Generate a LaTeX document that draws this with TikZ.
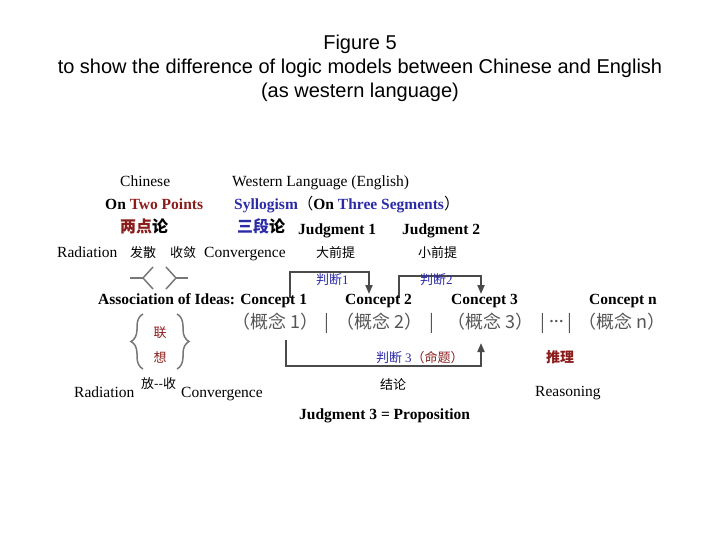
\documentclass[tikz,border=0pt]{standalone}
\usepackage{fontspec}
\setmainfont{Liberation Serif}
\newfontfamily\cjk{Noto Sans CJK SC}
\newfontfamily\arialf{Liberation Sans}
\usetikzlibrary{arrows.meta,decorations.pathreplacing}
\newcommand\myfs[1]{\fontsize{#1}{#1}\selectfont}
\definecolor{dred}{HTML}{8B1C1C}
\definecolor{dblue}{HTML}{2B2BA8}
\definecolor{lgray}{HTML}{4A4A4A}
\definecolor{cgray}{HTML}{555555}
\begin{document}
\begin{tikzpicture}[x=1pt,y=-1pt,
  every node/.style={inner sep=0pt,anchor=base west},
  en/.style={font=\myfs{15.5}},
  enb/.style={font=\myfs{15.5}\bfseries},
  cn/.style={font=\cjk\myfs{13}},
  cnb/.style={font=\cjk\bfseries\myfs{16}},
  gcn/.style={font=\cjk\myfs{18},text=cgray},
  ttl/.style={font=\arialf\myfs{20},anchor=base},
  conn/.style={draw=lgray,line width=2pt},
  arr/.style={conn,-{Triangle[width=7pt,length=9pt]}},
  sym/.style={draw=lgray!75,line width=1.5pt}]
\useasboundingbox (0,0) rectangle (720,540);
% title
\node[ttl] (t1) at (360,50) {Figure 5};
\node[ttl] (t2) at (360,74) {to show the difference of logic models between Chinese and English};
\node[ttl] (t3) at (360,98) {(as western language)};
% headers
\node[en] (chinese) at (120,187) {Chinese};
\node[en] (western) at (232,187) {Western Language (English)};
\node[enb] (twopts) at (105,210) {On \textcolor{dred}{Two Points}};
\node[enb] (syll) at (234,210) {\textcolor{dblue}{Syllogism}{\cjk\mdseries （}On \textcolor{dblue}{Three Segments}{\cjk\mdseries ）}};
\node[cnb] (lds) at (120,233) {\textcolor{dred}{两点}论};
\node[cnb] (sdl) at (237,233) {\textcolor{dblue}{三段}论};
\node[enb] (jud1) at (298,234) {Judgment 1};
\node[enb] (jud2) at (402,234) {Judgment 2};
\node[en] (rad1) at (57,257) {Radiation};
\node[cn] (fasan) at (130,257) {发散};
\node[cn] (shou) at (170,257) {收敛};
\node[en] (conv1) at (204,257) {Convergence};
\node[cn] (dqt) at (316,257) {大前提};
\node[cn] (xqt) at (418,257) {小前提};
% diverge / converge symbols
\draw[sym] (130,278) -- (143,278);
\draw[sym] (153,267) -- (143,278) -- (153,289);
\draw[sym] (166,267) -- (176,278) -- (166,289);
\draw[sym] (176,278) -- (188,278);
% judgment brackets
\coordinate (a1s) at (290,298);
\coordinate (a1e) at (369,294);
\coordinate (a2s) at (399,298);
\coordinate (a2e) at (481,294);
\draw[arr] (a1s) -- (290,272) -| (a1e);
\draw[arr] (a2s) -- (399,276) -| (a2e);
\node[cn,text=dblue] (pd1) at (316,284) {判断{\rmfamily 1}};
\node[cn,text=dblue] (pd2) at (420,284) {判断{\rmfamily 2}};
% concepts
\node[enb] (assoc) at (98,304) {Association of Ideas: Concept 1};
\node[enb] (con2) at (345,304) {Concept 2};
\node[enb] (con3) at (451,304) {Concept 3};
\node[enb] (conn) at (589,304) {Concept n};
\node[gcn] (g1) at (232,328) {（概念 1）};
\node[gcn,anchor=base] (s1) at (327,328) {|};
\node[gcn] (g2) at (336,328) {（概念 2）};
\node[gcn,anchor=base] (s2) at (432,328) {|};
\node[gcn] (g3) at (447,328) {（概念 3）};
\node[gcn,anchor=base] (s3) at (543,328) {|};
\node[anchor=base,font=\rmfamily\bfseries\myfs{15},text=cgray] (dots) at (556.5,326) {···};
\node[gcn,anchor=base] (s4) at (570,328) {|};
\node[gcn] (gn) at (578,328) {（概念 n）};
% braces
\draw[sym,decorate,decoration={brace,amplitude=12pt}] (143,369) -- (143,314);
\draw[sym,decorate,decoration={brace,amplitude=12pt}] (177,314) -- (177,369);
\node[cn,text=dred,anchor=base] (lian) at (160,337) {联};
\node[cn,text=dred,anchor=base] (xiang) at (160,362) {想};
\node[cn] (fangshou) at (141,388) {放-{}-收};
\node[en] (rad2) at (74,397) {Radiation};
\node[en] (conv2) at (181,397) {Convergence};
% conclusion bracket
\coordinate (b1) at (286,340);
\coordinate (b2) at (481,343);
\draw[arr] (b1) -- (286,366) -| (b2);
\node[cn] (pd3) at (376,362) {\textcolor{dblue}{判断 {\rmfamily 3}}\textcolor{dred}{（命题）}};
\node[cn] (jielun) at (380,389) {结论};
\node[cnb,text=dred,font=\cjk\bfseries\myfs{14}] (tuili) at (546,362) {推理};
\node[en] (reason) at (535,396) {Reasoning};
\node[enb] (jud3) at (299,419) {Judgment 3 = Proposition};
\end{tikzpicture}
\end{document}
